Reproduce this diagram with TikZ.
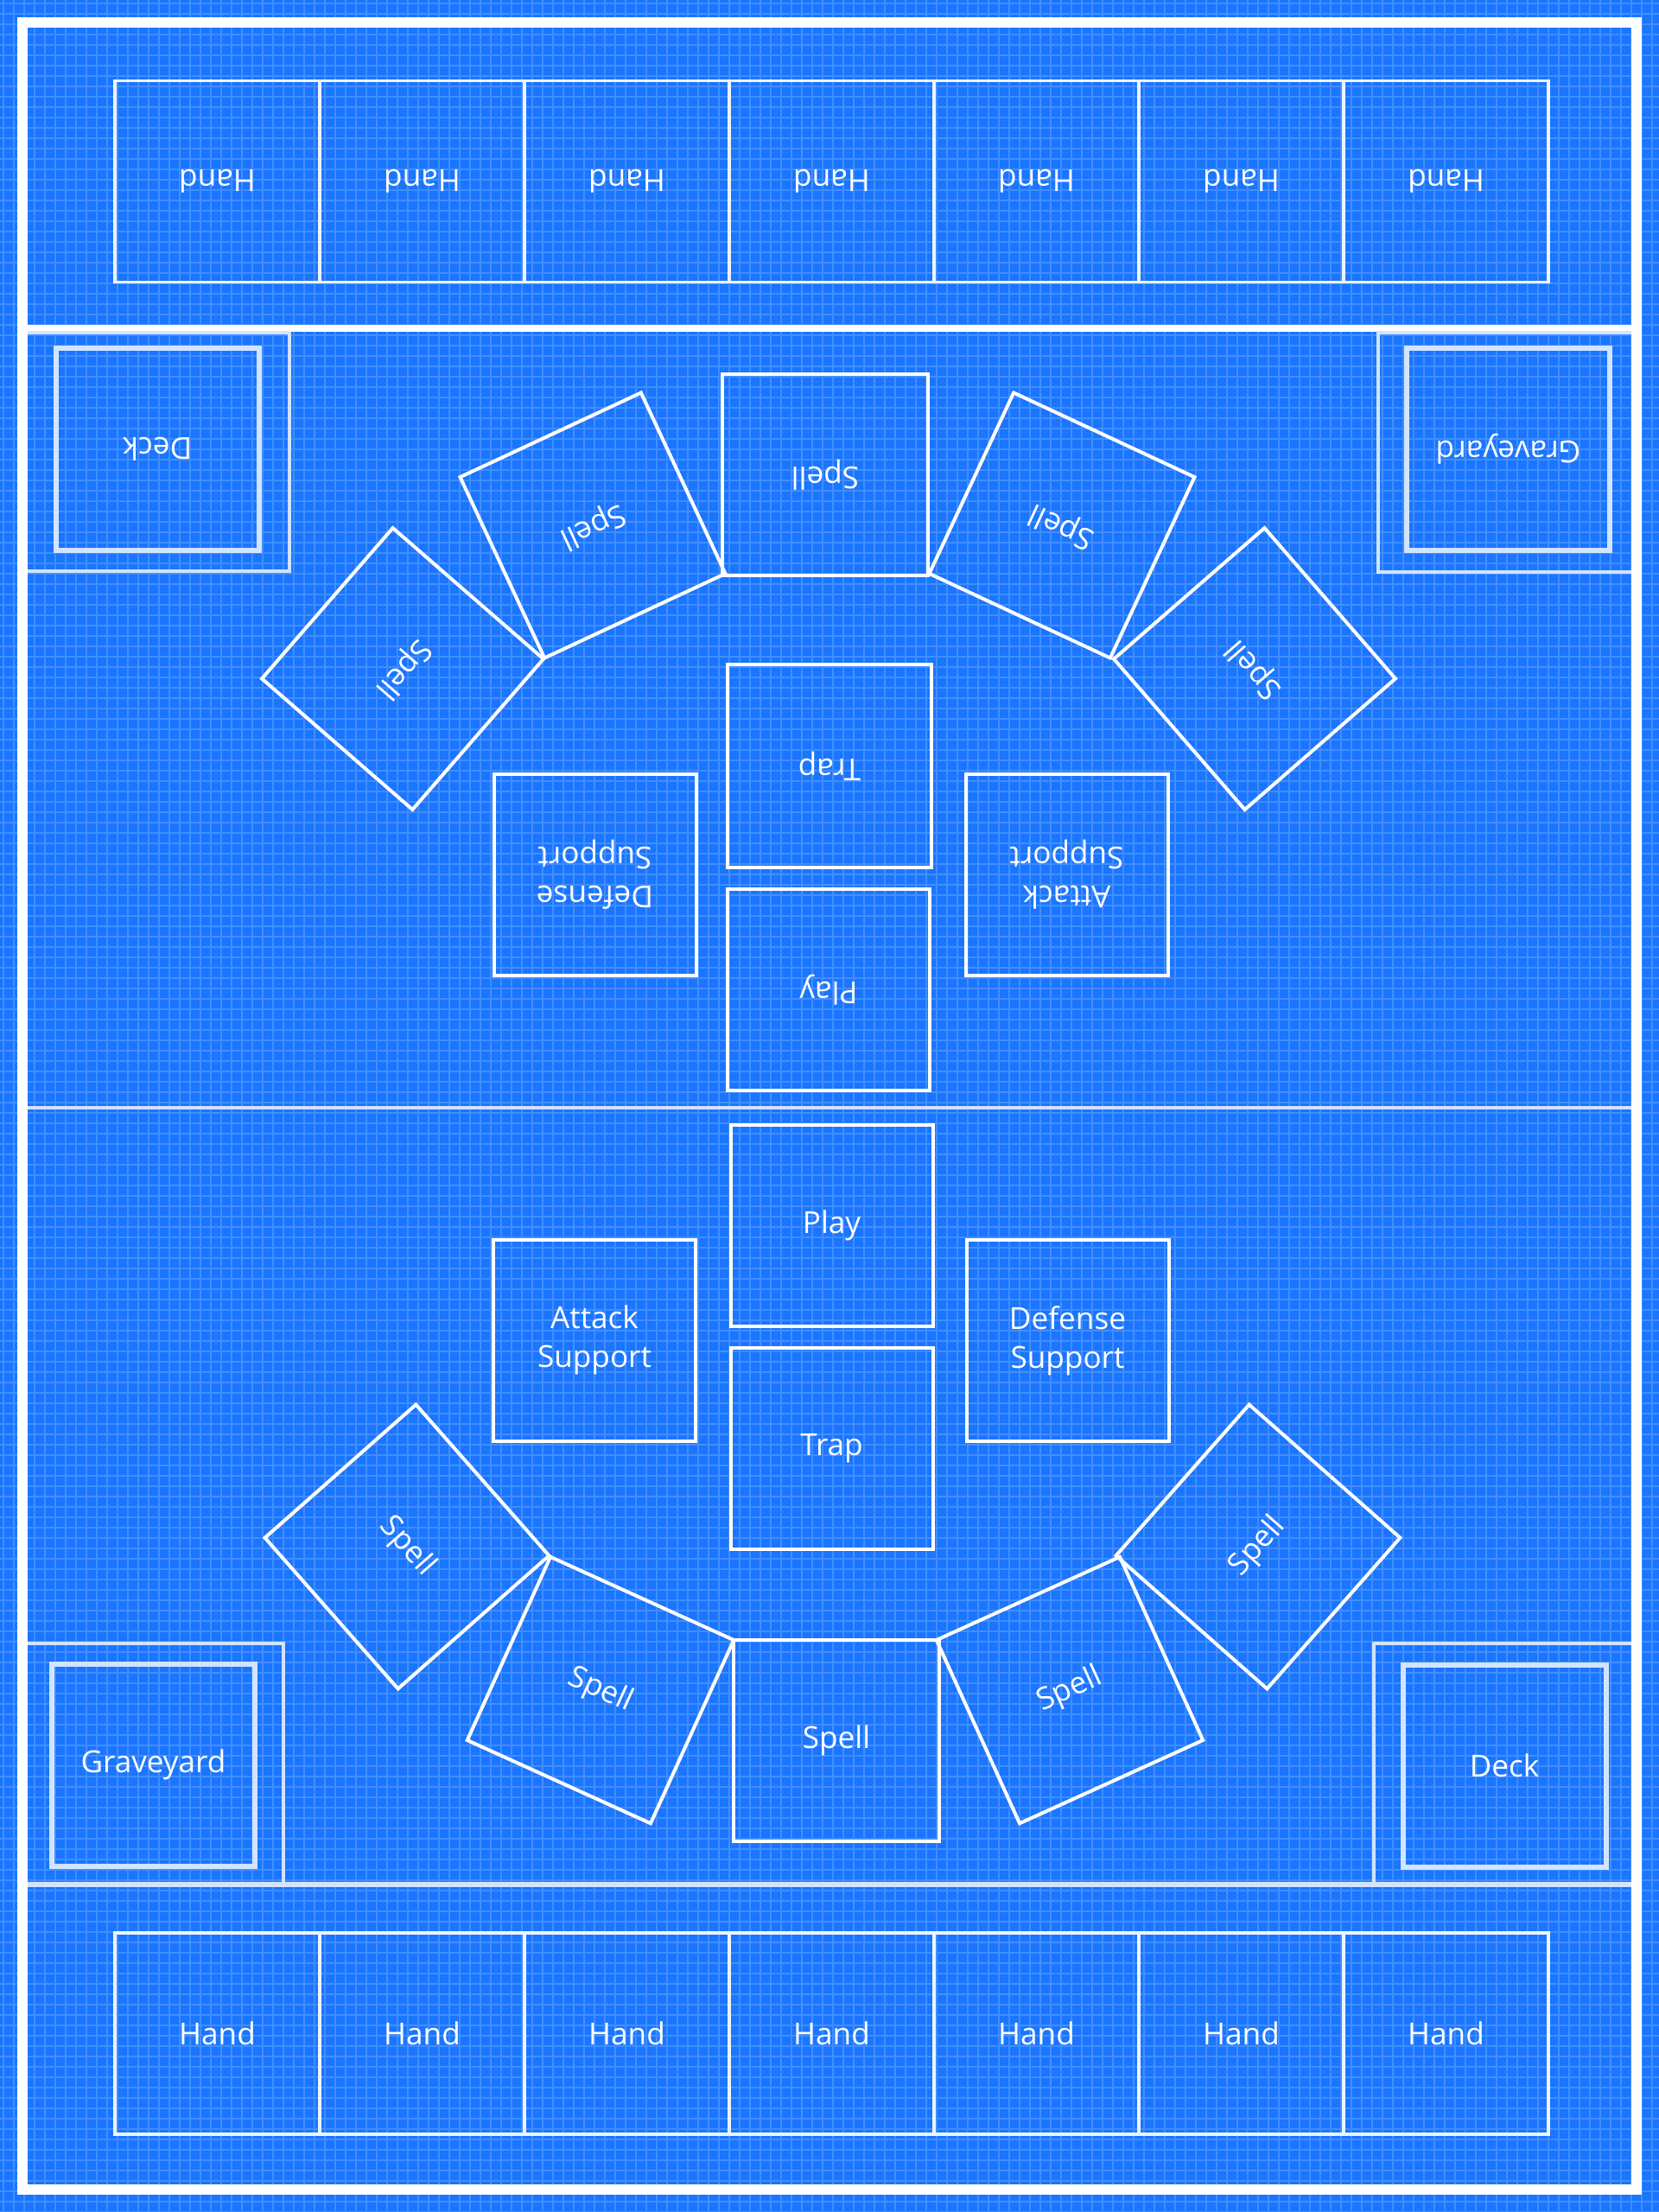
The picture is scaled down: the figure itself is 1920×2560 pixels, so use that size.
\documentclass[tikz,border=0pt]{standalone}
\usepackage{fontspec}
\setmainfont{Open Sans}
\definecolor{bgblue}{RGB}{26,117,255}
\definecolor{gridc}{RGB}{66,142,255}
\definecolor{lightline}{RGB}{210,228,255}
\begin{document}
\begin{tikzpicture}[x=0.1mm,y=-0.1mm,
  every node/.style={text=white, font=\fontsize{10}{12.8}\selectfont, align=center, inner sep=0pt},
  card/.style={draw=white, line width=0.4mm, minimum width=23.4mm, minimum height=23.3mm},
  handbox/.style={draw=white!92!bgblue, line width=0.35mm, minimum width=23.7mm, minimum height=23.3mm},
  pileout/.style={draw=lightline, line width=0.35mm},
  pilein/.style={draw=lightline, line width=0.6mm, minimum width=23.5mm, minimum height=23.4mm},
  upside/.style={rotate=180}]
\useasboundingbox (0,0) rectangle (1920,2560);
% background and grid
\fill[bgblue] (0,0) rectangle (1920,2560);
\foreach \i in {0,...,160} \draw[gridc, line width=0.22mm] (\i*12+4,0) -- (\i*12+4,2560);
\foreach \j in {0,...,213} \draw[gridc, line width=0.22mm] (0,\j*12+4) -- (1920,\j*12+4);
% dividers
\draw[lightline, line width=0.35mm] (26,1282) -- (1894,1282);
\draw[lightline, line width=0.6mm] (26,2181) -- (1894,2181);
\draw[white, line width=0.8mm] (26,380) -- (1894,380);
% hand rows
\foreach \k in {0,...,6} \node[handbox, upside] (htop\k) at (251.5+237*\k,210) {Hand};
\foreach \k in {0,...,6} \node[handbox] (hbot\k) at (251.5+237*\k,2353.5) {Hand};
% piles top
\node[pileout, minimum width=30.5mm, minimum height=27.6mm] (deckTopFrame) at (182.5,523) {};
\node[pilein, upside] (deckTop) at (182,520) {Deck};
\node[pileout, minimum width=29.5mm, minimum height=27.7mm] (graveTopFrame) at (1742.5,523.5) {};
\node[pilein, upside] (graveTop) at (1745.5,520) {Graveyard};
% piles bottom
\node[pileout, minimum width=29.8mm, minimum height=27.9mm] (graveBotFrame) at (179,2041.5) {};
\node[pilein] (graveBot) at (177.5,2042.5) {Graveyard};
\node[pileout, minimum width=30.0mm, minimum height=27.9mm] (deckBotFrame) at (1740,2041.5) {};
\node[pilein] (deckBot) at (1741,2043.5) {Deck};
% top player field
\node[card, upside, minimum width=23.8mm] (spellTopC) at (955,549.5) {Spell};
\node[card, rotate=205, minimum width=23.1mm, minimum height=23.1mm] (spellTopL1) at (686,608) {Spell};
\node[card, rotate=229, minimum width=23.1mm, minimum height=23.1mm] (spellTopL2) at (466,774) {Spell};
\node[card, rotate=155, minimum width=23.1mm, minimum height=23.1mm] (spellTopR1) at (1229,608) {Spell};
\node[card, rotate=131, minimum width=23.1mm, minimum height=23.1mm] (spellTopR2) at (1452,774) {Spell};
\node[card, upside, minimum width=23.6mm, minimum height=23.5mm] (trapTop) at (960,886.5) {Trap};
\node[card, upside] (playTop) at (959,1145.5) {Play};
\node[card, upside] (defTop) at (688.5,1012) {Defense\\Support};
\node[card, upside] (attTop) at (1234.5,1012) {Attack\\Support};
% bottom player field
\node[card] (playBot) at (962.5,1418) {Play};
\node[card] (trapBot) at (962.5,1676) {Trap};
\node[card] (attBot) at (688,1551) {Attack\\Support};
\node[card] (defBot) at (1235.5,1551.5) {Defense\\Support};
\node[card, minimum width=23.8mm] (spellBotC) at (968,2014) {Spell};
\node[card, rotate=-24.4, minimum width=23.3mm, minimum height=23.3mm] (spellBotL1) at (695,1956) {Spell};
\node[card, rotate=-48.6, minimum width=23.3mm, minimum height=23.3mm] (spellBotL2) at (471,1790) {Spell};
\node[card, rotate=24.4, minimum width=23.3mm, minimum height=23.3mm] (spellBotR1) at (1238,1956) {Spell};
\node[card, rotate=48.6, minimum width=23.3mm, minimum height=23.3mm] (spellBotR2) at (1456,1790) {Spell};
% outer frame
\draw[white, line width=1.2mm] (26,26) rectangle (1894,2534);
\end{tikzpicture}
\end{document}
